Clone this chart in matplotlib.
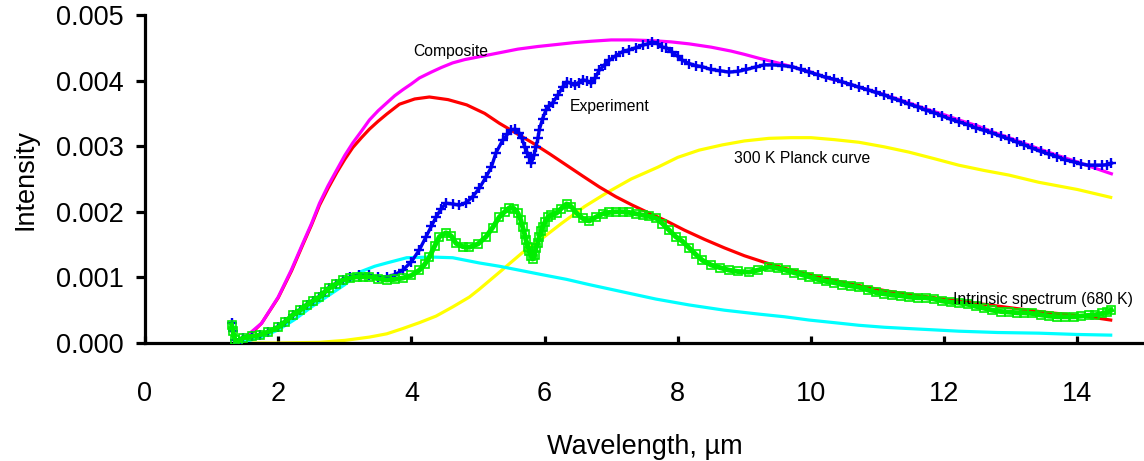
import numpy as np
import matplotlib
matplotlib.use('Agg')
import matplotlib.pyplot as plt
from matplotlib.ticker import FormatStrFormatter

plt.rcParams['font.family'] = ['Liberation Sans', 'DejaVu Sans']

# values (wavelength in um, intensity)
composite_x = [1.54, 1.75, 2.0, 2.2, 2.37, 2.5, 2.62, 2.75, 2.88, 3.0, 3.12, 3.25, 3.37, 3.5,
               3.63, 3.75, 3.87, 4.0, 4.12, 4.3, 4.45, 4.62, 4.8, 5.0, 5.2, 5.4, 5.6, 5.9,
               6.18, 6.45, 6.7, 7.0, 7.3, 7.6, 7.9, 8.17, 8.5, 8.8, 9.0, 9.22, 9.5, 9.72,
               10.0, 10.22, 10.5, 10.72, 11.0, 11.21, 11.5, 11.72, 12.0, 12.22, 12.5, 12.72,
               13.0, 13.42, 13.7, 14.0, 14.25, 14.51]
composite_y = [0.00012, 0.0003, 0.0007, 0.00112, 0.00152, 0.00182, 0.00213, 0.0024, 0.00264,
               0.00286, 0.00305, 0.00323, 0.0034, 0.00354, 0.00366, 0.00377, 0.00386, 0.00395,
               0.00404, 0.00413, 0.0042, 0.00427, 0.00432, 0.00436, 0.0044, 0.00444, 0.00448,
               0.00452, 0.00455, 0.00458, 0.0046, 0.00462, 0.00462, 0.00461, 0.00459, 0.00456,
               0.00451, 0.00445, 0.0044, 0.00434, 0.00427, 0.00421, 0.00413, 0.00405, 0.00397,
               0.0039, 0.00382, 0.00375, 0.00365, 0.00357, 0.00348, 0.0034, 0.00331, 0.00322,
               0.00312, 0.00296, 0.00286, 0.00276, 0.00267, 0.00258]

red_x = [1.55, 1.75, 2.0, 2.2, 2.37, 2.5, 2.62, 2.75, 2.88, 3.0, 3.12, 3.25, 3.37, 3.5, 3.63,
         3.82, 4.05, 4.27, 4.55, 4.83, 5.1, 5.32, 5.57, 5.82, 6.08, 6.33, 6.58, 6.82, 7.07,
         7.32, 7.57, 7.83, 8.1, 8.4, 8.7, 9.0, 9.3, 9.6, 9.9, 10.2, 10.5, 10.8, 11.1, 11.4,
         11.7, 12.0, 12.3, 12.6, 12.9, 13.2, 13.5, 13.8, 14.1, 14.5]
red_y = [0.0001, 0.0003, 0.00069, 0.0011, 0.0015, 0.0018, 0.0021, 0.00236, 0.0026, 0.0028,
         0.00298, 0.00313, 0.00326, 0.00338, 0.00349, 0.00364, 0.00372, 0.00375, 0.00371,
         0.00363, 0.0035, 0.00335, 0.0032, 0.00305, 0.00288, 0.00271, 0.00254, 0.00238,
         0.00223, 0.0021, 0.00198, 0.00186, 0.00172, 0.00158, 0.00145, 0.00133, 0.00123,
         0.00114, 0.00106, 0.00099, 0.00092, 0.00086, 0.0008, 0.00075, 0.00071, 0.00067,
         0.00063, 0.00059, 0.00055, 0.00051, 0.00047, 0.00044, 0.00041, 0.00035]

planck300_x = [1.5, 2.0, 2.62, 3.0, 3.37, 3.63, 3.87, 4.12, 4.37, 4.62, 4.87, 5.02, 5.3, 5.67,
               5.97, 6.25, 6.6, 6.95, 7.3, 7.7, 8.0, 8.32, 8.67, 9.0, 9.37, 9.7, 10.0, 10.35,
               10.72, 11.1, 11.47, 11.85, 12.22, 12.6, 12.97, 13.42, 14.0, 14.5]
planck300_y = [0.0, 0.0, 0.00001, 0.00004, 0.00009, 0.00014, 0.00022, 0.00031, 0.00041,
               0.00055, 0.0007, 0.00082, 0.00106, 0.00138, 0.0016, 0.00182, 0.00208, 0.0023,
               0.0025, 0.00268, 0.00283, 0.00294, 0.00302, 0.00308, 0.00312, 0.00313, 0.00313,
               0.0031, 0.00306, 0.00299, 0.00291, 0.00281, 0.00271, 0.00263, 0.00256, 0.00245,
               0.00234, 0.00222]

cyan_x = [1.5, 1.75, 2.0, 2.25, 2.5, 2.75, 3.0, 3.22, 3.45, 3.63, 3.93, 4.3, 4.62, 5.02, 5.32,
          5.62, 5.97, 6.33, 6.67, 7.17, 7.67, 8.17, 8.7, 9.22, 9.6, 9.97, 10.35, 10.72, 11.1,
          11.47, 11.85, 12.22, 12.8, 13.42, 14.0, 14.5]
cyan_y = [0.00002, 0.00009, 0.0002, 0.00036, 0.00055, 0.00072, 0.00089, 0.00108, 0.00117,
          0.00122, 0.0013, 0.00131, 0.0013, 0.00122, 0.00117, 0.00111, 0.00104, 0.00097,
          0.00089, 0.00078, 0.00067, 0.00058, 0.0005, 0.00044, 0.0004, 0.00035, 0.00031,
          0.00027, 0.00024, 0.00022, 0.0002, 0.00018, 0.00016, 0.00015, 0.00013, 0.00012]

exp_x = [1.3, 1.32, 1.35, 1.4, 1.47, 1.6, 1.72, 1.85, 2.0, 2.1, 2.22, 2.33, 2.43, 2.52, 2.62,
         2.7, 2.77, 2.87, 2.97, 3.08, 3.22, 3.37, 3.5, 3.63, 3.75, 3.87, 4.0, 4.12, 4.22, 4.3,
         4.37, 4.45, 4.52, 4.62, 4.72, 4.82, 4.92, 5.02, 5.12, 5.2, 5.27, 5.37, 5.44, 5.5, 5.56,
         5.62, 5.66, 5.7, 5.74, 5.77, 5.8, 5.84, 5.87, 5.9, 5.92, 5.97, 6.02, 6.07, 6.12, 6.2,
         6.27, 6.33, 6.39, 6.45, 6.51, 6.57, 6.63, 6.7, 6.76, 6.82, 6.9, 6.97, 7.07, 7.17, 7.27,
         7.37, 7.47, 7.55, 7.62, 7.7, 7.77, 7.83, 7.92, 8.0, 8.07, 8.17, 8.27, 8.37, 8.5, 8.63,
         8.77, 8.9, 9.03, 9.18, 9.3, 9.42, 9.57, 9.72, 9.85, 9.97, 10.1, 10.22, 10.35, 10.47,
         10.6, 10.72, 10.85, 10.97, 11.1, 11.22, 11.35, 11.47, 11.6, 11.72, 11.85, 11.97,
         12.1, 12.22, 12.35, 12.47, 12.6, 12.72, 12.85, 12.97, 13.1, 13.2, 13.32, 13.45, 13.57,
         13.7, 13.82, 13.95, 14.05, 14.17, 14.27, 14.37, 14.45, 14.51]
exp_y = [0.0003, 0.00018, 0.00005, 0.0, 0.00007, 0.0001, 0.00012, 0.00017, 0.00024, 0.00032,
         0.00043, 0.0005, 0.00058, 0.00064, 0.0007, 0.00078, 0.00084, 0.0009, 0.00096, 0.001,
         0.00104, 0.00103, 0.001, 0.00101, 0.00104, 0.00111, 0.00124, 0.00142, 0.00162,
         0.00178, 0.00192, 0.00205, 0.00213, 0.00212, 0.0021, 0.00214, 0.00223, 0.00236,
         0.00253, 0.00268, 0.0029, 0.00309, 0.00318, 0.00325, 0.00326, 0.0032, 0.00312,
         0.00299, 0.0029, 0.00284, 0.00274, 0.00286, 0.00299, 0.00312, 0.00325, 0.00342,
         0.00355, 0.00362, 0.00366, 0.00378, 0.0039, 0.00398, 0.00396, 0.00393, 0.00397,
         0.00401, 0.004, 0.00396, 0.00404, 0.00416, 0.00424, 0.00431, 0.00438, 0.00444,
         0.00447, 0.0045, 0.00454, 0.00456, 0.00459, 0.00456, 0.00451, 0.0045, 0.00443,
         0.00437, 0.00431, 0.00426, 0.00423, 0.00421, 0.00417, 0.00415, 0.00413, 0.00414,
         0.00417, 0.00421, 0.00424, 0.00424, 0.00423, 0.00421, 0.00417, 0.00413, 0.00409,
         0.00405, 0.00402, 0.00398, 0.00394, 0.0039, 0.00386, 0.00382, 0.00378, 0.00373,
         0.00369, 0.00364, 0.0036, 0.00355, 0.00351, 0.00346, 0.00341, 0.00337, 0.00333,
         0.00328, 0.00324, 0.0032, 0.00315, 0.00311, 0.00306, 0.00302, 0.00297, 0.00292,
         0.00288, 0.00284, 0.00279, 0.00276, 0.00273, 0.00271, 0.00271, 0.00271, 0.00272,
         0.00274]

intr_x = [1.3, 1.32, 1.35, 1.4, 1.47, 1.6, 1.72, 1.85, 2.0, 2.1, 2.22, 2.33, 2.43, 2.52, 2.62,
          2.7, 2.77, 2.87, 2.97, 3.08, 3.18, 3.27, 3.37, 3.5, 3.63, 3.75, 3.87, 4.0, 4.12, 4.2,
          4.27, 4.35, 4.42, 4.52, 4.6, 4.67, 4.77, 4.87, 5.0, 5.12, 5.22, 5.32, 5.4, 5.47, 5.54,
          5.6, 5.64, 5.67, 5.7, 5.72, 5.75, 5.77, 5.8, 5.82, 5.85, 5.87, 5.9, 5.92, 5.95, 5.97,
          6.01, 6.05, 6.1, 6.18, 6.25, 6.33, 6.4, 6.48, 6.57, 6.67, 6.77, 6.87, 6.97, 7.07,
          7.17, 7.27, 7.37, 7.47, 7.57, 7.68, 7.77, 7.87, 7.97, 8.07, 8.17, 8.27, 8.37, 8.5,
          8.63, 8.77, 8.9, 9.07, 9.2, 9.37, 9.5, 9.62, 9.75, 9.87, 9.97, 10.1, 10.22, 10.35,
          10.47, 10.6, 10.72, 10.85, 10.97, 11.1, 11.22, 11.35, 11.47, 11.6, 11.72, 11.85,
          11.97, 12.1, 12.22, 12.35, 12.47, 12.6, 12.72, 12.85, 12.97, 13.1, 13.2, 13.32, 13.45,
          13.57, 13.7, 13.82, 13.95, 14.05, 14.17, 14.27, 14.37, 14.45, 14.51]
intr_y = [0.00028, 0.00018, 0.00005, 0.0, 0.00008, 0.0001, 0.00012, 0.00017, 0.00024, 0.00032,
          0.00043, 0.0005, 0.00058, 0.00064, 0.0007, 0.00078, 0.00084, 0.0009, 0.00096,
          0.00099, 0.00101, 0.00101, 0.00101, 0.00098, 0.00096, 0.00097, 0.00099, 0.00103,
          0.00111, 0.0012, 0.00131, 0.00148, 0.00162, 0.00168, 0.00163, 0.00152, 0.00147,
          0.00146, 0.00151, 0.00162, 0.00176, 0.00192, 0.002, 0.00206, 0.00205, 0.00198,
          0.00188, 0.00177, 0.00166, 0.00157, 0.00147, 0.0014, 0.00133, 0.00128, 0.00134,
          0.00145, 0.00153, 0.00162, 0.0017, 0.00177, 0.00185, 0.00192, 0.00195, 0.00198,
          0.00205, 0.00212, 0.00208, 0.00198, 0.0019, 0.00186, 0.00192, 0.00197, 0.00199,
          0.002, 0.002, 0.00199, 0.00197, 0.00195, 0.00193, 0.0019, 0.00182, 0.00172, 0.00162,
          0.00155, 0.00145, 0.00135, 0.00126, 0.00119, 0.00115, 0.00111, 0.00109, 0.00108,
          0.00111, 0.00116, 0.00114, 0.00111, 0.00107, 0.00104, 0.00101, 0.00097, 0.00094,
          0.00092, 0.00089, 0.00087, 0.00085, 0.00081, 0.00077, 0.00075, 0.00073, 0.00072,
          0.0007, 0.00069, 0.00069, 0.00067, 0.00064, 0.00062, 0.00061, 0.00059, 0.00056,
          0.00053, 0.0005, 0.00048, 0.00047, 0.00046, 0.00046, 0.00045, 0.00043, 0.00041,
          0.0004, 0.0004, 0.0004, 0.00041, 0.00042, 0.00043, 0.00045, 0.00047, 0.0005]

labels = [('Composite', 4.59, 0.00444),
          ('Experiment', 6.97, 0.00361),
          ('300 K Planck curve', 9.87, 0.00282),
          ('Intrinsic spectrum (680 K)', 13.48, 0.00067)]

fig = plt.figure(figsize=(11.44, 4.61), dpi=100)
ax = fig.add_axes([145 / 1144, 118 / 461, 999 / 1144, 328 / 461])

lw = 2.3
ax.plot(planck300_x, planck300_y, color='#ffff00', lw=lw, zorder=2)
ax.plot(cyan_x, cyan_y, color='#00ffff', lw=lw, zorder=2)
ax.plot(red_x, red_y, color='#ff0000', lw=lw, zorder=3)
ax.plot(composite_x, composite_y, color='#ff00ff', lw=lw, zorder=3)
ax.plot(exp_x, exp_y, color='#0000ee', lw=2.4, marker='+', ms=7.5, mew=1.7, zorder=4)
ax.plot(intr_x, intr_y, color='#00ee00', lw=3.6, marker='s', ms=6, mew=1.2,
        mfc='none', zorder=5)

for txt, x, y in labels:
    ax.text(x, y, txt, fontsize=11.3, ha='center', va='center', zorder=6)

ax.set_xlim(0, 15)
ax.set_ylim(0, 0.005)
ax.set_xticks(np.arange(0, 15, 2))
ax.set_yticks(np.arange(0, 0.0051, 0.001))
ax.yaxis.set_major_formatter(FormatStrFormatter('%.3f'))

for side in ['top', 'right']:
    ax.spines[side].set_visible(False)
for side in ['left', 'bottom']:
    ax.spines[side].set_linewidth(2.3)

ax.tick_params(axis='y', direction='out', length=6.5, width=2.3, pad=9, labelsize=19.5)
ax.tick_params(axis='x', direction='in', length=5, width=2.3, pad=27, labelsize=19.5)

ax.set_xlabel('Wavelength, \u00b5m', fontsize=19.5, labelpad=20)
ax.set_ylabel('Intensity', fontsize=19.5, labelpad=12)

fig.savefig('out.png', dpi=100)
